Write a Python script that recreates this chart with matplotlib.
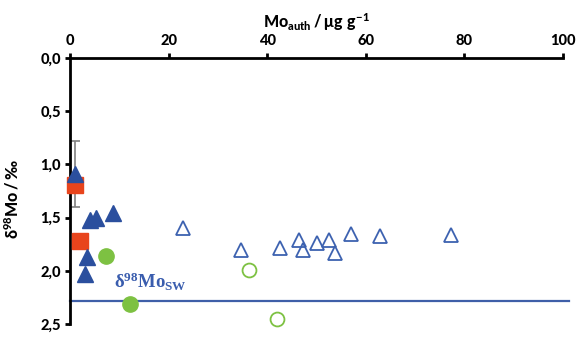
import matplotlib
matplotlib.use("Agg")
import matplotlib.pyplot as plt
from matplotlib.ticker import FuncFormatter

plt.rcParams['font.family'] = ['Lato', 'DejaVu Sans']
plt.rcParams['mathtext.fontset'] = 'custom'
plt.rcParams['mathtext.sf'] = 'Lato:black'
plt.rcParams['mathtext.rm'] = 'Liberation Serif:bold'

# Authigenic Mo (µg/g) and d98Mo (permil) per sample group
filled_tri_mo = [1.1, 4.1, 5.3, 8.8, 3.5, 3.0]
filled_tri_d = [1.09, 1.52, 1.50, 1.46, 1.87, 2.03]
filled_tri_err = [0.31, 0, 0, 0, 0, 0]

square_mo = [1.1, 2.0]
square_d = [1.19, 1.72]

filled_circ_mo = [7.4, 12.2]
filled_circ_d = [1.86, 2.31]

open_circ_mo = [36.3, 42.0]
open_circ_d = [1.99, 2.45]

open_tri_mo = [22.9, 34.7, 42.6, 46.5, 47.3, 50.1, 52.6, 53.8, 57.0, 62.9, 77.3]
open_tri_d = [1.60, 1.80, 1.79, 1.71, 1.80, 1.74, 1.71, 1.83, 1.65, 1.67, 1.66]

seawater_d = 2.28

x_ticks = [0, 20, 40, 60, 80, 100]
y_ticks = [0.0, 0.5, 1.0, 1.5, 2.0, 2.5]

fig = plt.figure(figsize=(5.87, 3.39), dpi=100)
ax = fig.add_axes([70/587, 1-324/339, (563-70)/587, (324-58)/339])

blue_dark = '#2B4F9E'
blue_line = '#3D62B0'
red = '#E8441C'
green = '#7DC142'

ax.axhline(seawater_d, xmin=0, xmax=1.012, color='#3F5FA8', lw=1.6, clip_on=False, zorder=2)
ax.text(9.0, 2.165, r'$\mathrm{δ^{98}Mo_{SW}}$', color='#3A5DAE', fontsize=13.5,
        ha='left', va='baseline')

ax.plot(square_mo, square_d, 's', color=red, ms=11, mec=red, clip_on=False, zorder=3)
ax.errorbar(filled_tri_mo[:1], filled_tri_d[:1], yerr=filled_tri_err[:1], fmt='none',
            ecolor='#808080', elinewidth=1.2, capsize=3.5, capthick=1.2, zorder=2.5, clip_on=False)
ax.plot(filled_tri_mo, filled_tri_d, '^', color=blue_dark, ms=11.5, clip_on=False, zorder=4)
ax.plot(filled_circ_mo, filled_circ_d, 'o', color=green, ms=11, clip_on=False, zorder=3)
ax.plot(open_circ_mo, open_circ_d, 'o', mfc='none', mec=green, mew=1.3, ms=10, clip_on=False, zorder=3)
ax.plot(open_tri_mo, open_tri_d, '^', mfc='none', mec=blue_line, mew=1.3, ms=10.5, clip_on=False, zorder=3)

ax.set_xlim(0, 100)
ax.set_ylim(2.5, 0)
ax.xaxis.tick_top()
ax.xaxis.set_label_position('top')
ax.set_xticks(x_ticks)
ax.set_yticks(y_ticks)
ax.yaxis.set_major_formatter(FuncFormatter(lambda v, p: f"{v:.1f}".replace('.', ',')))

for s in ['right', 'bottom']:
    ax.spines[s].set_visible(False)
for s in ['top', 'left']:
    ax.spines[s].set_linewidth(2.0)

ax.tick_params(axis='both', direction='out', length=3.5, width=2.0, labelsize=10.5)
for lab in ax.get_xticklabels() + ax.get_yticklabels():
    lab.set_fontweight('black')
ax.tick_params(axis='x', pad=4)
ax.tick_params(axis='y', pad=3)

ax.set_xlabel(r'$\mathsf{Mo_{auth}\,/\,μg\ g^{-1}}$', fontsize=11.5, labelpad=4)
ax.set_ylabel(r'$\mathsf{δ^{98}Mo\,/\,‰}$', fontsize=11.5)
ax.yaxis.set_label_coords(-0.099, 0.47)

fig.savefig('out.png', dpi=100)
